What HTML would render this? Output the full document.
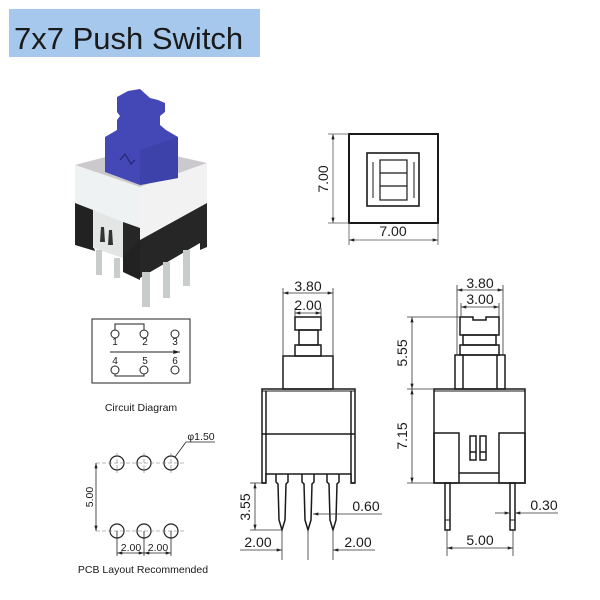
<!DOCTYPE html>
<html><head><meta charset="utf-8"><style>
html,body{margin:0;padding:0;background:#fff;}
svg{display:block;}
text{font-family:"Liberation Sans",sans-serif;fill:#1a1a1a;}
</style></head><body>
<svg width="600" height="600" viewBox="0 0 600 600" xmlns="http://www.w3.org/2000/svg">
<defs>
<marker id="a" viewBox="0 0 10 6" refX="10" refY="3" markerWidth="8" markerHeight="4" orient="auto-start-reverse"><path d="M0,0 L10,3 L0,6 z" fill="#222"/></marker>
</defs>
<rect x="9" y="9" width="251" height="48" fill="#a6c8ec"/>
<text x="14" y="49" font-size="31">7x7 Push Switch</text>

<!-- photo -->
<g>
<polygon points="75,165 140,148 207,163 140,187" fill="#cbc9cb"/>
<polygon points="75,165 140,187 140,240 75,203" fill="#eef2f2"/>
<polygon points="140,187 207,163 207,203 140,240" fill="#f2f2f2"/>
<polygon points="75,203 93,210 93,245 95,251 75,245" fill="#222"/>
<polygon points="93,210 123,222 123,258 93,248" fill="#e4e6e6"/>
<polygon points="123,222 140,228 140,240 207,203 207,247 200,250 200,243 140,278 123,270" fill="#262626"/>
<polygon points="140,240 140,280 123,272 123,258" fill="#222"/>
<polygon points="101,227 104,227 105,242 100,242" fill="#333"/>
<polygon points="109,230 112,230 113,245 108,245" fill="#333"/>
<rect x="96" y="250" width="6" height="25" fill="#c8cccc"/>
<rect x="114" y="258" width="6" height="20" fill="#c8cccc"/>
<rect x="142" y="272" width="8" height="35" fill="#c8cccc"/>
<rect x="163" y="262" width="7" height="36" fill="#c8cccc"/>
<rect x="183" y="250" width="7" height="36" fill="#c8cccc"/>
<polygon points="117,97 128,91 140,89 150,98 158,100 165,103 165,112 160,116 160,125 166,130 178,137 178,178 140,185 105,172 105,137 117,130 117,120 120,116 117,112" fill="#4348b6"/>
<polygon points="140,150 178,137 178,178 140,185" fill="#3d41aa"/>
<path d="M120,160 l5,-6 l6,10 l4,-4" stroke="#2a2c80" stroke-width="1.5" fill="none"/>
</g>

<!-- top view -->
<g stroke="#1a1a1a" fill="none">
<rect x="349" y="134" width="89" height="89" stroke-width="2"/>
<rect x="367" y="153" width="52" height="53" stroke-width="1.6"/>
<rect x="380" y="160" width="27" height="40" stroke-width="1.2"/>
<line x1="380" y1="173" x2="407" y2="173" stroke-width="1.2"/>
<line x1="380" y1="186" x2="407" y2="186" stroke-width="1.2"/>
<line x1="373" y1="162" x2="373" y2="198" stroke-width="1"/>
<line x1="414" y1="162" x2="414" y2="198" stroke-width="1"/>
<g stroke-width="0.8" stroke="#555">
<line x1="328" y1="134" x2="349" y2="134"/><line x1="328" y1="223" x2="349" y2="223"/>
<line x1="333" y1="134" x2="333" y2="223" marker-start="url(#a)" marker-end="url(#a)"/>
<line x1="349" y1="223" x2="349" y2="245"/><line x1="438" y1="223" x2="438" y2="245"/>
<line x1="349" y1="240" x2="438" y2="240" marker-start="url(#a)" marker-end="url(#a)"/>
</g>
</g>
<text x="330" y="179" font-size="14" text-anchor="middle" transform="rotate(-90 330 179)" dy="-2">7.00</text>
<text x="393" y="236" font-size="14" text-anchor="middle">7.00</text>

<!-- circuit -->
<g stroke="#222" fill="none" stroke-width="1">
<rect x="92" y="319" width="98" height="64"/>
<circle cx="115" cy="334" r="4"/><circle cx="144" cy="334" r="4"/><circle cx="175" cy="334" r="4"/>
<circle cx="115" cy="370" r="4"/><circle cx="144" cy="370" r="4"/><circle cx="175" cy="370" r="4"/>
<polyline points="115,330 115,324 144,324 144,330"/>
<polyline points="115,374 115,376 144,376 144,374"/>
<line x1="110" y1="352" x2="180" y2="352" marker-end="url(#a)"/>
</g>
<g font-size="10" text-anchor="middle">
<text x="115" y="345">1</text><text x="145" y="345">2</text><text x="175" y="345">3</text>
<text x="115" y="364">4</text><text x="145" y="364">5</text><text x="175" y="364">6</text>
</g>
<text x="141" y="411" font-size="10.5" text-anchor="middle">Circuit Diagram</text>

<!-- pcb -->
<g stroke="#222" fill="none">
<g stroke-width="1.2">
<circle cx="117" cy="463" r="7"/><circle cx="144" cy="463" r="7"/><circle cx="171" cy="463" r="7"/>
<circle cx="117" cy="531" r="7"/><circle cx="144" cy="531" r="7"/><circle cx="171" cy="531" r="7"/>
</g>
<g stroke-width="0.6" stroke="#777" stroke-dasharray="4,2">
<line x1="96" y1="463" x2="185" y2="463"/><line x1="96" y1="531" x2="185" y2="531"/>
<line x1="117" y1="453" x2="117" y2="473"/><line x1="144" y1="453" x2="144" y2="473"/><line x1="171" y1="453" x2="171" y2="473"/>
</g>
<g stroke-width="0.8">
<line x1="96" y1="463" x2="96" y2="531" marker-start="url(#a)" marker-end="url(#a)"/>
<line x1="117" y1="531" x2="117" y2="556"/><line x1="144" y1="531" x2="144" y2="556"/><line x1="171" y1="531" x2="171" y2="556"/>
<line x1="117" y1="553" x2="144" y2="553" marker-start="url(#a)" marker-end="url(#a)"/>
<line x1="144" y1="553" x2="171" y2="553" marker-start="url(#a)" marker-end="url(#a)"/>
<polyline points="175,457 186,442 215,442"/>
</g>
</g>
<text x="90" y="497" font-size="10.5" text-anchor="middle" transform="rotate(-90 90 497)" dy="3">5.00</text>
<text x="201" y="440" font-size="10.5" text-anchor="middle">φ1.50</text>
<text x="131" y="551" font-size="10.5" text-anchor="middle">2.00</text>
<text x="158" y="551" font-size="10.5" text-anchor="middle">2.00</text>
<text x="143" y="573" font-size="10.5" text-anchor="middle">PCB Layout Recommended</text>

<!-- front view -->
<g stroke="#1a1a1a" fill="none" stroke-width="1.5">
<rect x="295" y="317" width="26" height="13"/>
<rect x="299" y="330" width="19" height="15"/>
<rect x="295" y="345" width="26" height="11"/>
<rect x="283" y="356" width="50" height="33"/>
<rect x="262" y="389" width="93" height="94"/>
<line x1="266" y1="391" x2="266" y2="483"/><line x1="351" y1="391" x2="351" y2="483"/>
<line x1="262" y1="434" x2="355" y2="434"/>
<line x1="262" y1="391" x2="355" y2="391" stroke-width="1"/>
<rect x="266" y="474" width="85" height="10" fill="#fff" stroke="none"/>
<polyline points="262,483 266,483 266,474 351,474 351,483 355,483"/>
<path d="M276,474 L276,482 L278,484 L279,520 L282,530 L285,520 L286,484 L288,482 L288,474"/>
<path d="M302,474 L302,482 L304,484 L305,520 L308,530 L311,520 L312,484 L314,482 L314,474"/>
<path d="M327,474 L327,482 L329,484 L330,520 L333,530 L336,520 L337,484 L339,482 L339,474"/>
</g>
<g stroke="#333" stroke-width="0.8" fill="none">
<line x1="283" y1="288" x2="283" y2="356"/><line x1="333" y1="288" x2="333" y2="356"/>
<line x1="283" y1="293" x2="333" y2="293" marker-start="url(#a)" marker-end="url(#a)"/>
<line x1="295" y1="308" x2="295" y2="317"/><line x1="321" y1="308" x2="321" y2="317"/>
<line x1="295" y1="313" x2="321" y2="313" marker-start="url(#a)" marker-end="url(#a)"/>
<line x1="250" y1="483" x2="262" y2="483"/><line x1="250" y1="530" x2="282" y2="530"/>
<line x1="255" y1="483" x2="255" y2="530" marker-start="url(#a)" marker-end="url(#a)"/>
<line x1="382" y1="514" x2="313" y2="514" marker-end="url(#a)"/>
<line x1="282" y1="530" x2="282" y2="560"/><line x1="308" y1="530" x2="308" y2="560"/><line x1="333" y1="530" x2="333" y2="560"/>
<line x1="240" y1="550" x2="282" y2="550" marker-end="url(#a)"/>
<line x1="375" y1="550" x2="333" y2="550" marker-end="url(#a)"/>
</g>
<g font-size="14" text-anchor="middle">
<text x="308" y="291">3.80</text>
<text x="308" y="310">2.00</text>
<text x="366" y="511">0.60</text>
<text x="258" y="547">2.00</text>
<text x="358" y="547">2.00</text>
<text x="245" y="507" transform="rotate(-90 245 507)" dy="5">3.55</text>
</g>

<!-- side view -->
<g stroke="#1a1a1a" fill="none" stroke-width="1.5">
<path d="M460,317 L473,317 L473,320 L486,320 L486,317 L499,317 L499,335 L460,335 Z"/>
<rect x="463" y="335" width="33" height="10"/>
<rect x="460" y="345" width="39" height="10"/>
<rect x="455" y="355" width="50" height="34"/>
<line x1="463" y1="355" x2="463" y2="389"/><line x1="497" y1="355" x2="497" y2="389"/>
<rect x="434" y="389" width="91" height="94"/>
<line x1="434" y1="391" x2="525" y2="391" stroke-width="1"/>
<rect x="434" y="433" width="25" height="50"/>
<rect x="499" y="433" width="26" height="50"/>
<line x1="459" y1="473" x2="499" y2="473"/>
<rect x="470" y="436" width="6" height="24"/><rect x="480" y="436" width="6" height="24"/>
<line x1="470" y1="452" x2="476" y2="452"/><line x1="480" y1="452" x2="486" y2="452"/>
<rect x="445" y="483" width="5" height="47"/><rect x="510" y="483" width="5" height="47"/>
<line x1="445" y1="520" x2="450" y2="520" stroke-width="1"/><line x1="510" y1="520" x2="515" y2="520" stroke-width="1"/>
</g>
<g stroke="#333" stroke-width="0.8" fill="none">
<line x1="457" y1="285" x2="457" y2="355"/><line x1="503" y1="285" x2="503" y2="355"/>
<line x1="457" y1="290" x2="503" y2="290" marker-start="url(#a)" marker-end="url(#a)"/>
<line x1="461" y1="303" x2="461" y2="317"/><line x1="499" y1="303" x2="499" y2="317"/>
<line x1="461" y1="307" x2="499" y2="307" marker-start="url(#a)" marker-end="url(#a)"/>
<line x1="407" y1="317" x2="460" y2="317"/><line x1="407" y1="389" x2="434" y2="389"/><line x1="407" y1="483" x2="434" y2="483"/>
<line x1="412" y1="317" x2="412" y2="389" marker-start="url(#a)" marker-end="url(#a)"/>
<line x1="412" y1="389" x2="412" y2="483" marker-start="url(#a)" marker-end="url(#a)"/>
<line x1="558" y1="513" x2="515" y2="513" marker-end="url(#a)"/>
<line x1="495" y1="513" x2="510" y2="513" marker-end="url(#a)"/>
<line x1="447" y1="530" x2="447" y2="556"/><line x1="513" y1="530" x2="513" y2="556"/>
<line x1="447" y1="548" x2="513" y2="548" marker-start="url(#a)" marker-end="url(#a)"/>
</g>
<g font-size="14" text-anchor="middle">
<text x="480" y="288">3.80</text>
<text x="480" y="304">3.00</text>
<text x="544" y="510">0.30</text>
<text x="480" y="545">5.00</text>
<text x="402" y="353" transform="rotate(-90 402 353)" dy="5">5.55</text>
<text x="402" y="436" transform="rotate(-90 402 436)" dy="5">7.15</text>
</g>
</svg>
</body></html>
